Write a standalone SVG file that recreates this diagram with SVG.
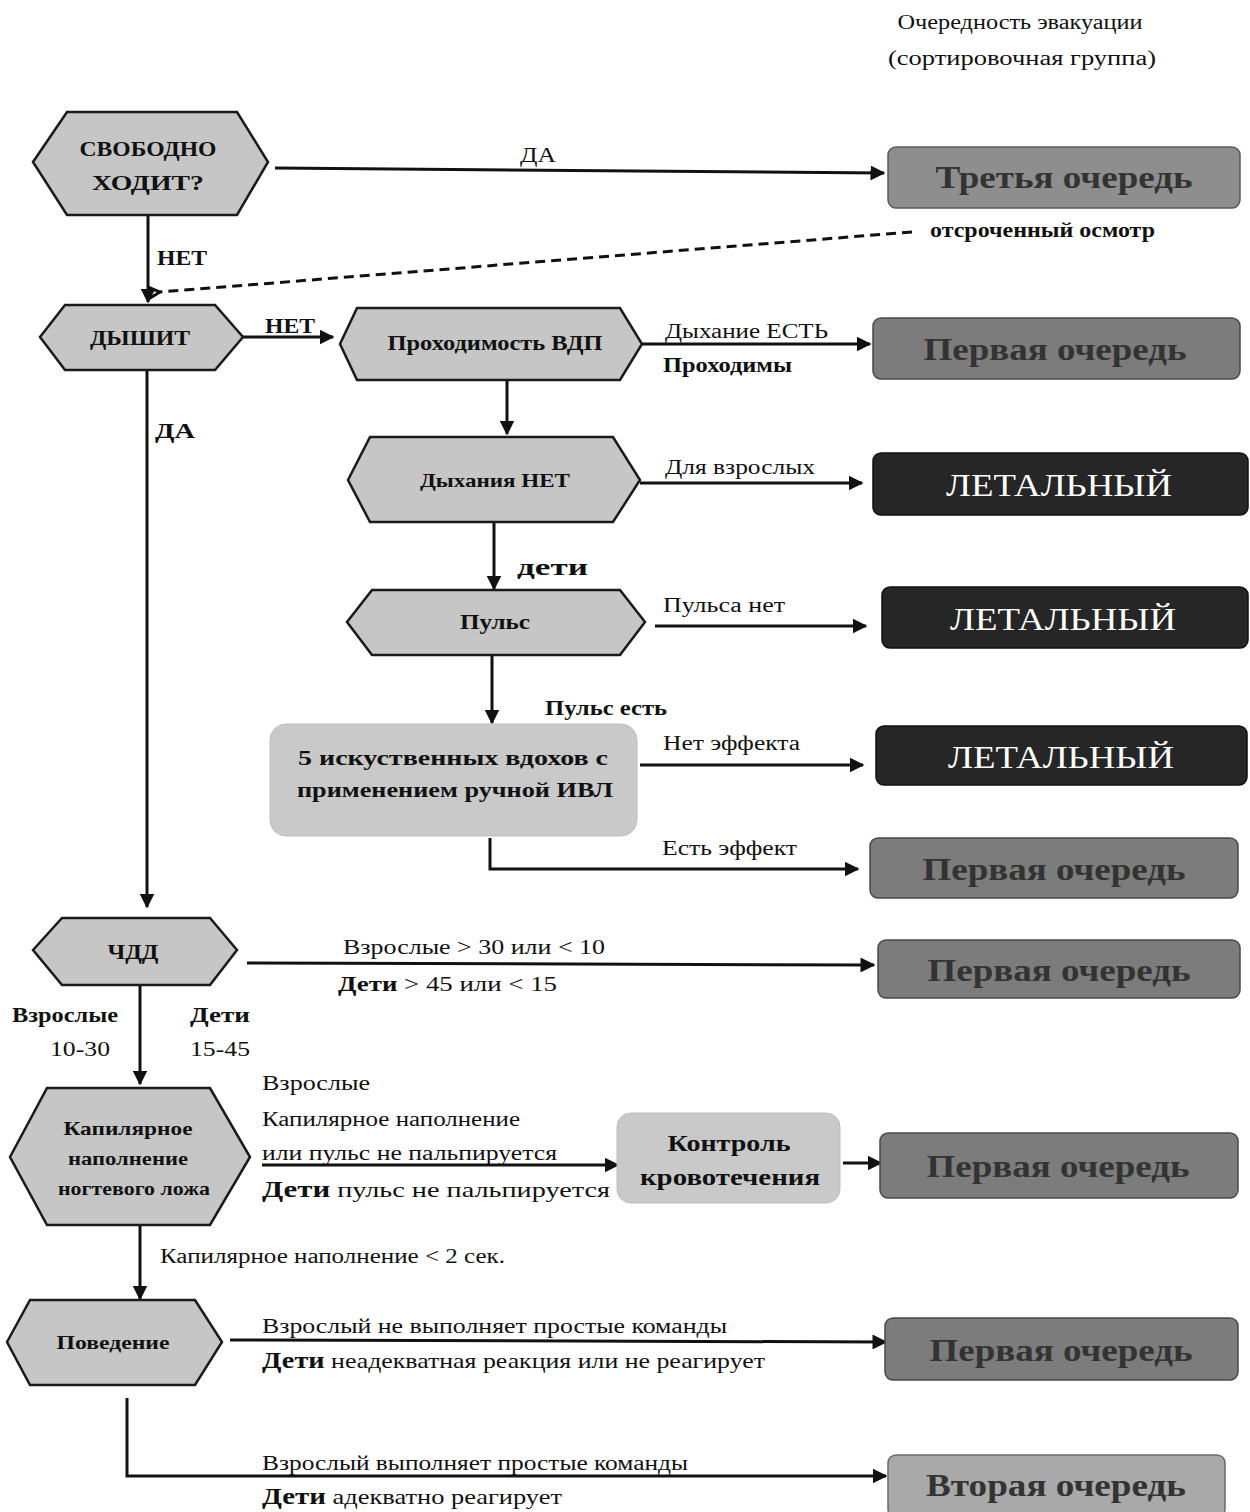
<svg xmlns="http://www.w3.org/2000/svg" width="1250" height="1512" viewBox="0 0 1250 1512">
<style>
text{font-family:"Liberation Serif","DejaVu Serif",serif;fill:#111}
.hex{fill:#c6c6c6;stroke:#1a1a1a;stroke-width:2.5}
.proc{fill:#c9c9c9;stroke:#bdbdbd;stroke-width:1}
.n{font-weight:bold;text-anchor:middle}
.lbl{font-size:20px}
.b{font-weight:bold}
.line{fill:none;stroke:#111;stroke-width:3}
.out3{fill:#8e8e8e;stroke:#5a5a5a;stroke-width:1.5}
.out1{fill:#7c7c7c;stroke:#4a4a4a;stroke-width:1.5}
.out2{fill:#a9a9a9;stroke:#6a6a6a;stroke-width:1.5}
.leth{fill:#262626;stroke:#111;stroke-width:1.5}
.otxt{font-size:32px;font-weight:bold;text-anchor:middle;fill:#333}
.ltxt{font-size:32px;text-anchor:middle;fill:#fff}
</style>
<defs>
<marker id="arr" viewBox="0 0 10 10" refX="9" refY="5" markerWidth="5" markerHeight="5" orient="auto" markerUnits="strokeWidth">
<path d="M0,0 L10,5 L0,10 z" fill="#111"/>
</marker>
<marker id="open" viewBox="0 0 10 10" refX="1" refY="5" markerWidth="5" markerHeight="5" orient="auto" markerUnits="strokeWidth">
<path d="M9,1 L1,5 L9,9" fill="none" stroke="#111" stroke-width="2"/>
</marker>
</defs>
<rect width="1250" height="1512" fill="#fff"/>

<g id="header">
<text x="1020" y="29" font-size="20" text-anchor="middle" textLength="245" lengthAdjust="spacingAndGlyphs">Очередность эвакуации</text>
<text x="1022" y="65" font-size="20" text-anchor="middle" textLength="268" lengthAdjust="spacingAndGlyphs">(сортировочная группа)</text>
</g>

<g id="connectors">
<line class="line" x1="275" y1="168" x2="884" y2="173" marker-end="url(#arr)"/>
<text class="lbl" x="520" y="162" textLength="36" lengthAdjust="spacingAndGlyphs">ДА</text>
<line class="line" x1="148" y1="215" x2="148" y2="302" marker-end="url(#arr)"/>
<text class="lbl b" x="157" y="265" textLength="50" lengthAdjust="spacingAndGlyphs">НЕТ</text>
<line x1="912" y1="232" x2="160" y2="292" stroke="#111" stroke-width="3" stroke-dasharray="10,6" marker-end="url(#open)"/>
<text class="lbl b" x="930" y="237" textLength="225" lengthAdjust="spacingAndGlyphs">отсроченный осмотр</text>
<line class="line" x1="243" y1="337" x2="333" y2="337" marker-end="url(#arr)"/>
<text class="lbl b" x="265" y="333" textLength="50" lengthAdjust="spacingAndGlyphs">НЕТ</text>
<line class="line" x1="642" y1="344" x2="870" y2="344" marker-end="url(#arr)"/>
<text class="lbl" x="665" y="338" textLength="163" lengthAdjust="spacingAndGlyphs">Дыхание ЕСТЬ</text>
<text class="lbl b" x="663" y="372" textLength="129" lengthAdjust="spacingAndGlyphs">Проходимы</text>
<line class="line" x1="507" y1="380" x2="507" y2="434" marker-end="url(#arr)"/>
<line class="line" x1="147" y1="370" x2="147" y2="907" marker-end="url(#arr)"/>
<text class="lbl b" x="155" y="438" textLength="40" lengthAdjust="spacingAndGlyphs">ДА</text>
<line class="line" x1="640" y1="483" x2="862" y2="483" marker-end="url(#arr)"/>
<text class="lbl" x="665" y="474" textLength="150" lengthAdjust="spacingAndGlyphs">Для взрослых</text>
<line class="line" x1="494" y1="522" x2="494" y2="589" marker-end="url(#arr)"/>
<text x="517" y="575" font-size="24" font-weight="bold" textLength="71" lengthAdjust="spacingAndGlyphs">дети</text>
<line class="line" x1="655" y1="626" x2="866" y2="626" marker-end="url(#arr)"/>
<text class="lbl" x="663" y="612" textLength="122" lengthAdjust="spacingAndGlyphs">Пульса нет</text>
<line class="line" x1="492" y1="655" x2="492" y2="723" marker-end="url(#arr)"/>
<text class="lbl b" x="545" y="715" textLength="122" lengthAdjust="spacingAndGlyphs">Пульс есть</text>
<line class="line" x1="640" y1="765" x2="863" y2="765" marker-end="url(#arr)"/>
<text class="lbl" x="663" y="750" textLength="137" lengthAdjust="spacingAndGlyphs">Нет эффекта</text>
<polyline class="line" points="490,838 490,869 858,869" marker-end="url(#arr)"/>
<text class="lbl" x="662" y="855" textLength="135" lengthAdjust="spacingAndGlyphs">Есть эффект</text>
<line class="line" x1="247" y1="963" x2="874" y2="965" marker-end="url(#arr)"/>
<text class="lbl" x="343" y="954" textLength="262" lengthAdjust="spacingAndGlyphs">Взрослые &gt; 30 или &lt; 10</text>
<text x="338" y="991" font-size="22" textLength="219" lengthAdjust="spacingAndGlyphs"><tspan font-weight="bold">Дети</tspan> &gt; 45 или &lt; 15</text>
<line class="line" x1="140" y1="985" x2="140" y2="1084" marker-end="url(#arr)"/>
<text class="lbl b" x="12" y="1022" textLength="106" lengthAdjust="spacingAndGlyphs">Взрослые</text>
<text class="lbl" x="50" y="1056" textLength="60" lengthAdjust="spacingAndGlyphs">10-30</text>
<text class="lbl b" x="190" y="1022" textLength="60" lengthAdjust="spacingAndGlyphs">Дети</text>
<text class="lbl" x="190" y="1056" textLength="60" lengthAdjust="spacingAndGlyphs">15-45</text>
<text class="lbl" x="262" y="1090" textLength="108" lengthAdjust="spacingAndGlyphs">Взрослые</text>
<text class="lbl" x="262" y="1126" textLength="258" lengthAdjust="spacingAndGlyphs">Капилярное наполнение</text>
<text class="lbl" x="262" y="1160" textLength="295" lengthAdjust="spacingAndGlyphs">или пульс не пальпируется</text>
<line class="line" x1="262" y1="1165" x2="618" y2="1165" marker-end="url(#arr)"/>
<text x="262" y="1197" font-size="22" textLength="348" lengthAdjust="spacingAndGlyphs"><tspan font-weight="bold" font-size="24">Дети</tspan> пульс не пальпируется</text>
<line class="line" x1="843" y1="1163" x2="881" y2="1163" marker-end="url(#arr)"/>
<line class="line" x1="140" y1="1225" x2="140" y2="1299" marker-end="url(#arr)"/>
<text class="lbl" x="160" y="1263" textLength="345" lengthAdjust="spacingAndGlyphs">Капилярное наполнение &lt; 2 сек.</text>
<line class="line" x1="230" y1="1340" x2="886" y2="1342" marker-end="url(#arr)"/>
<text class="lbl" x="262" y="1333" textLength="465" lengthAdjust="spacingAndGlyphs">Взрослый не выполняет простые  команды</text>
<text x="262" y="1368" font-size="21" textLength="503" lengthAdjust="spacingAndGlyphs"><tspan font-weight="bold" font-size="23">Дети</tspan> неадекватная реакция или не реагирует</text>
<polyline class="line" points="127,1398 127,1476 886,1476" marker-end="url(#arr)"/>
<text class="lbl" x="262" y="1470" textLength="426" lengthAdjust="spacingAndGlyphs">Взрослый выполняет простые команды</text>
<text x="262" y="1504" font-size="21" textLength="300" lengthAdjust="spacingAndGlyphs"><tspan font-weight="bold" font-size="23">Дети</tspan> адекватно реагирует</text>
</g>

<g id="n-walk">
<polygon class="hex" points="33,162 67,112 237,112 268,162 237,215 67,215"/>
<text class="n" x="148" y="156" font-size="22" textLength="137" lengthAdjust="spacingAndGlyphs">СВОБОДНО</text>
<text class="n" x="148" y="190" font-size="22" textLength="112" lengthAdjust="spacingAndGlyphs">ХОДИТ?</text>
</g>
<g id="n-third">
<rect class="out3" x="888" y="147" width="352" height="61" rx="8"/>
<text class="otxt" x="1064" y="188" textLength="257" lengthAdjust="spacingAndGlyphs">Третья очередь</text>
</g>
<g id="n-breath">
<polygon class="hex" points="40,337 65,305 215,305 243,337 215,370 65,370"/>
<text class="n" x="140" y="345" font-size="22" textLength="100" lengthAdjust="spacingAndGlyphs">ДЫШИТ</text>
</g>
<g id="n-airway">
<polygon class="hex" points="340,344 357,308 620,308 642,344 620,380 357,380"/>
<text class="n" x="495" y="350" font-size="20" textLength="215" lengthAdjust="spacingAndGlyphs">Проходимость ВДП</text>
</g>
<g id="n-first1">
<rect class="out1" x="873" y="318" width="367" height="61" rx="8"/>
<text class="otxt" x="1055" y="360" textLength="263" lengthAdjust="spacingAndGlyphs">Первая очередь</text>
</g>
<g id="n-nobreath">
<polygon class="hex" points="348,480 370,437 613,437 640,480 613,522 370,522"/>
<text class="n" x="495" y="487" font-size="19" textLength="150" lengthAdjust="spacingAndGlyphs">Дыхания НЕТ</text>
</g>
<g id="n-leth1">
<rect class="leth" x="873" y="453" width="375" height="62" rx="8"/>
<text class="ltxt" x="1059" y="496" textLength="226" lengthAdjust="spacingAndGlyphs">ЛЕТАЛЬНЫЙ</text>
</g>
<g id="n-pulse">
<polygon class="hex" points="347,622 372,590 620,590 645,622 620,655 372,655"/>
<text class="n" x="495" y="629" font-size="20" textLength="70" lengthAdjust="spacingAndGlyphs">Пульс</text>
</g>
<g id="n-leth2">
<rect class="leth" x="882" y="587" width="366" height="61" rx="8"/>
<text class="ltxt" x="1063" y="630" textLength="226" lengthAdjust="spacingAndGlyphs">ЛЕТАЛЬНЫЙ</text>
</g>
<g id="n-ivl">
<rect class="proc" x="270" y="724" width="367" height="112" rx="16"/>
<text class="n" x="453" y="765" font-size="22" textLength="310" lengthAdjust="spacingAndGlyphs">5 искуственных вдохов с</text>
<text class="n" x="455" y="797" font-size="22" textLength="316" lengthAdjust="spacingAndGlyphs">применением ручной ИВЛ</text>
</g>
<g id="n-leth3">
<rect class="leth" x="876" y="726" width="371" height="59" rx="8"/>
<text class="ltxt" x="1061" y="768" textLength="226" lengthAdjust="spacingAndGlyphs">ЛЕТАЛЬНЫЙ</text>
</g>
<g id="n-first2">
<rect class="out1" x="870" y="838" width="368" height="60" rx="8"/>
<text class="otxt" x="1054" y="880" textLength="263" lengthAdjust="spacingAndGlyphs">Первая очередь</text>
</g>
<g id="n-rr">
<polygon class="hex" points="33,950 62,918 210,918 237,950 210,985 62,985"/>
<text class="n" x="133" y="959" font-size="22" textLength="51" lengthAdjust="spacingAndGlyphs">ЧДД</text>
</g>
<g id="n-first3">
<rect class="out1" x="878" y="940" width="362" height="58" rx="8"/>
<text class="otxt" x="1059" y="981" textLength="263" lengthAdjust="spacingAndGlyphs">Первая очередь</text>
</g>
<g id="n-cap">
<polygon class="hex" points="10,1157 47,1088 210,1088 250,1157 210,1225 47,1225"/>
<text class="n" x="128" y="1135" font-size="19" textLength="129" lengthAdjust="spacingAndGlyphs">Капилярное</text>
<text class="n" x="128" y="1165" font-size="19" textLength="120" lengthAdjust="spacingAndGlyphs">наполнение</text>
<text class="n" x="134" y="1195" font-size="19" textLength="152" lengthAdjust="spacingAndGlyphs">ногтевого ложа</text>
</g>
<g id="n-bleed">
<rect class="proc" x="617" y="1113" width="223" height="90" rx="14"/>
<text class="n" x="729" y="1151" font-size="24" textLength="123" lengthAdjust="spacingAndGlyphs">Контроль</text>
<text class="n" x="730" y="1185" font-size="24" textLength="180" lengthAdjust="spacingAndGlyphs">кровотечения</text>
</g>
<g id="n-first4">
<rect class="out1" x="880" y="1133" width="358" height="65" rx="8"/>
<text class="otxt" x="1058" y="1177" textLength="263" lengthAdjust="spacingAndGlyphs">Первая очередь</text>
</g>
<g id="n-behav">
<polygon class="hex" points="7,1342 30,1300 195,1300 222,1342 195,1385 30,1385"/>
<text class="n" x="113" y="1349" font-size="19" textLength="113" lengthAdjust="spacingAndGlyphs">Поведение</text>
</g>
<g id="n-first5">
<rect class="out1" x="885" y="1318" width="353" height="62" rx="8"/>
<text class="otxt" x="1061" y="1361" textLength="263" lengthAdjust="spacingAndGlyphs">Первая очередь</text>
</g>
<g id="n-second">
<rect class="out2" x="888" y="1455" width="337" height="62" rx="8"/>
<text class="otxt" x="1056" y="1496" textLength="260" lengthAdjust="spacingAndGlyphs">Вторая очередь</text>
</g>
</svg>
